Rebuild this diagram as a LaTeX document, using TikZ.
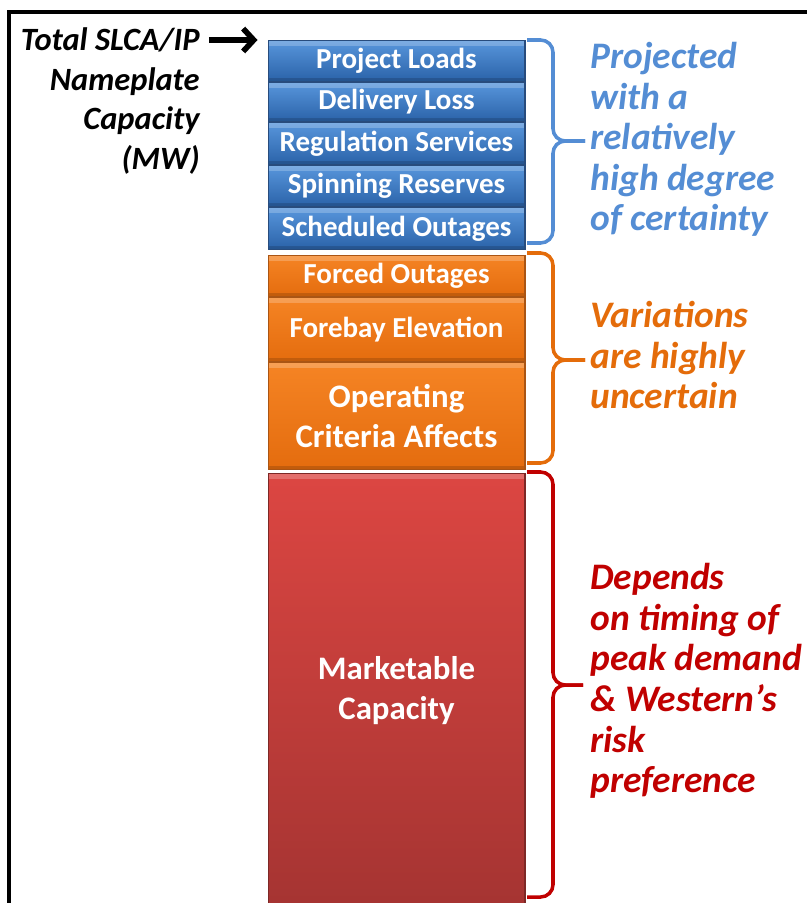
\documentclass[tikz,border=0pt]{standalone}
\usepackage{fontspec}
\setmainfont{Carlito}
\usetikzlibrary{positioning}
\usetikzlibrary{arrows.meta}

\definecolor{bluetop}{RGB}{88,150,220}
\definecolor{bluebot}{RGB}{42,98,168}
\definecolor{blueedge}{RGB}{40,76,125}
\definecolor{orangetop}{RGB}{245,132,36}
\definecolor{orangebot}{RGB}{228,108,14}
\definecolor{orangeedge}{RGB}{170,85,20}
\definecolor{redtop}{RGB}{220,70,66}
\definecolor{redbot}{RGB}{165,52,50}
\definecolor{rededge}{RGB}{125,40,38}
\definecolor{txtblue}{RGB}{84,141,212}
\definecolor{txtorange}{RGB}{228,108,10}
\definecolor{txtred}{RGB}{192,0,0}

\begin{document}
\begin{tikzpicture}[
  x=0.02cm, y=-0.02cm,
  box/.style = {minimum width=5.14cm, inner sep=0pt, align=center,
    text=white, font=\bfseries\fontsize{16.5}{22.7}\selectfont,
    line width=0.6pt,
    path picture={
      \fill[white,opacity=0.22] (path picture bounding box.north west)
        rectangle ([yshift=-3pt]path picture bounding box.north east);
      \fill[black,opacity=0.15] (path picture bounding box.south west)
        rectangle ([yshift=2pt]path picture bounding box.south east);}},
  bigtext/.style = {font=\bfseries\fontsize{18.7}{22.7}\selectfont},
  bluebox/.style = {box, top color=bluetop, bottom color=bluebot, draw=blueedge},
  orangebox/.style = {box, top color=orangetop, bottom color=orangebot, draw=orangeedge},
  redbox/.style = {box, top color=redtop, bottom color=redbot, draw=rededge},
  note/.style = {inner sep=0pt, align=left,
    font=\bfseries\itshape\fontsize{21.3}{23.1}\selectfont},
  lefttext/.style = {inner sep=0pt, align=right,
    font=\bfseries\itshape\fontsize{18.5}{22.7}\selectfont},
  brace/.style = {line width=2pt, rounded corners=7pt, draw=#1},
  >={Straight Barb[length=6pt,width=13pt]}
]

  \useasboundingbox (0,0) rectangle (807,903);
  \draw[line width=2pt] (9,903) -- (9,12) -- (807,12);

  % certain part
  \node[bluebox, minimum height=0.82cm, anchor=north] (loads) at (396.5,40) {Project Loads};
  \node[bluebox, minimum height=0.78cm, below=0pt of loads] (loss) {Delivery Loss};
  \node[bluebox, minimum height=0.84cm, below=0pt of loss] (regulation) {Regulation Services};
  \node[bluebox, minimum height=0.82cm, below=0pt of regulation] (spinning) {Spinning Reserves};
  \node[bluebox, minimum height=0.84cm, below=0pt of spinning] (scheduled) {Scheduled Outages};

  % uncertain part
  \node[orangebox, minimum height=0.82cm, below=0.1cm of scheduled] (forced) {Forced Outages};
  \node[orangebox, minimum height=1.28cm, below=0pt of forced] (forebay) {Forebay Elevation};
  \node[orangebox, bigtext, minimum height=2.14cm, below=0pt of forebay] (criteria) {Operating\\Criteria Affects};

  \node[redbox, bigtext, minimum height=8.68cm, below=0.06cm of criteria] (market) {Marketable\\Capacity};

  \node[lefttext, anchor=east] (total) at (200,40) {Total SLCA/IP};
  \node[lefttext, anchor=east] (nameplate) at (200,121) {Nameplate\\Capacity\\(MW)};
  \draw[line width=3.2pt,->] ([xshift=5pt]total.east) -- ([xshift=-0.2cm]loads.north west);

  \draw[brace=txtblue] (527,40) -| (553,141) -- (585,141);
  \draw[brace=txtblue] (585,141) -- (553,141) |- (527,243);
  \draw[brace=txtorange] (527,253) -| (553,360) -- (585,360);
  \draw[brace=txtorange] (585,360) -- (553,360) |- (527,463);
  \draw[brace=txtred] (527,472) -| (553,685) -- (583,685);
  \draw[brace=txtred] (583,685) -- (553,685) |- (527,897);

  \node[note, text=txtblue, anchor=west] (certain) at (590,139.5)
    {Projected\\with a\\relatively\\high degree\\of certainty};
  \node[note, text=txtorange, anchor=west] (uncertain) at (590,355)
    {Variations\\are highly\\uncertain};
  \node[note, text=txtred, anchor=west] (depends) at (590,681)
    {Depends\\on timing of\\peak demand\\\& Western’s\\risk\\preference};

\end{tikzpicture}
\end{document}
